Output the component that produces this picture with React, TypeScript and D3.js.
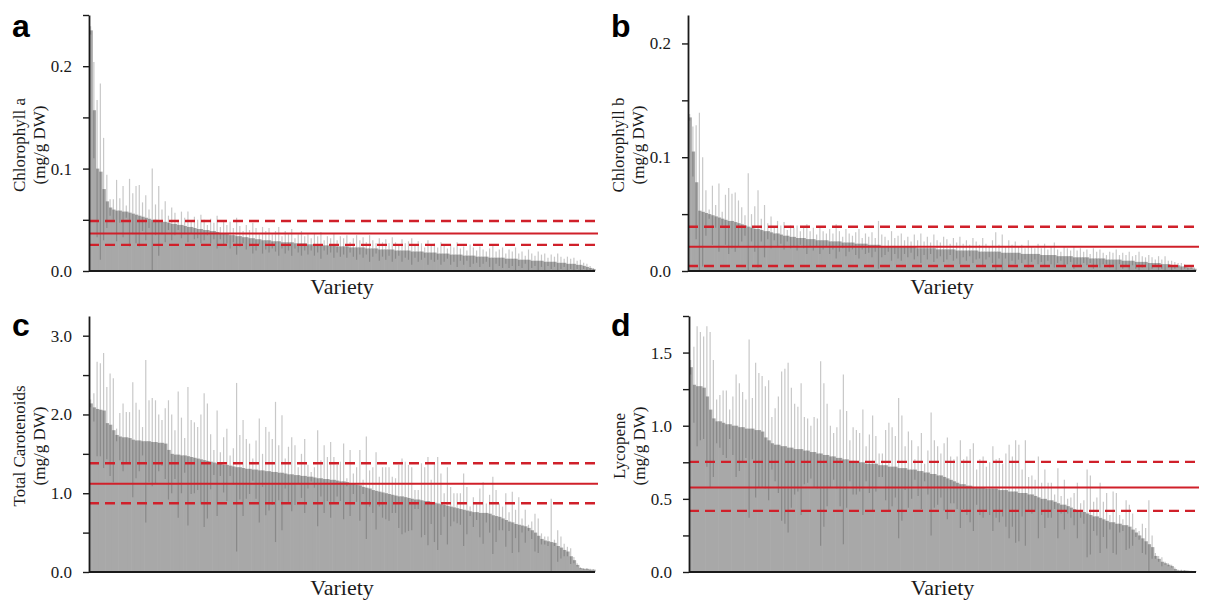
import React, { useEffect, useRef } from 'react';
import * as d3 from 'd3';

// ---------- data (sorted varieties, mean and error) ----------
const chlA = [
  0.235, 0.157, 0.100, 0.097, 0.080, 0.068, 0.062, 0.060, 0.059, 0.059,
  0.058, 0.058, 0.057, 0.056, 0.055, 0.054, 0.053, 0.052, 0.051, 0.050,
  0.050, 0.049, 0.048, 0.048, 0.047, 0.046, 0.046, 0.045, 0.045, 0.044,
  0.043, 0.043, 0.042, 0.041, 0.041, 0.040, 0.040, 0.039, 0.039, 0.038,
  0.037, 0.037, 0.036, 0.035, 0.035, 0.034, 0.034, 0.033, 0.033, 0.032,
  0.032, 0.031, 0.031, 0.030, 0.030, 0.030, 0.029, 0.029, 0.029, 0.028,
  0.028, 0.028, 0.028, 0.027, 0.027, 0.027, 0.027, 0.026, 0.026, 0.026,
  0.026, 0.025, 0.025, 0.025, 0.025, 0.025, 0.024, 0.024, 0.024, 0.024,
  0.023, 0.023, 0.023, 0.023, 0.023, 0.022, 0.022, 0.022, 0.022, 0.021,
  0.021, 0.021, 0.021, 0.021, 0.020, 0.020, 0.020, 0.020, 0.020, 0.019,
  0.019, 0.019, 0.019, 0.018, 0.018, 0.018, 0.018, 0.017, 0.017, 0.017,
  0.017, 0.016, 0.016, 0.016, 0.016, 0.015, 0.015, 0.015, 0.015, 0.014,
  0.014, 0.014, 0.014, 0.013, 0.013, 0.013, 0.013, 0.013, 0.012, 0.012,
  0.012, 0.012, 0.011, 0.011, 0.011, 0.011, 0.010, 0.010, 0.010, 0.010,
  0.009, 0.009, 0.009, 0.009, 0.008, 0.008, 0.008, 0.007, 0.007, 0.007,
  0.006, 0.006, 0.005, 0.004, 0.003, 0.002,
];
const chlAErr = [
  0.004, 0.047, 0.067, 0.086, 0.050, 0.026, 0.008, 0.010, 0.030, 0.012,
  0.025, 0.006, 0.033, 0.020, 0.028, 0.030, 0.014, 0.022, 0.009, 0.050,
  0.015, 0.034, 0.012, 0.020, 0.007, 0.016, 0.011, 0.005, 0.013, 0.008,
  0.015, 0.006, 0.011, 0.009, 0.014, 0.010, 0.005, 0.012, 0.008, 0.016,
  0.006, 0.011, 0.009, 0.013, 0.007, 0.018, 0.010, 0.006, 0.012, 0.008,
  0.015, 0.011, 0.005, 0.013, 0.009, 0.012, 0.007, 0.010, 0.014, 0.006,
  0.011, 0.008, 0.013, 0.005, 0.009, 0.012, 0.007, 0.010, 0.006, 0.011,
  0.008, 0.013, 0.005, 0.009, 0.007, 0.012, 0.006, 0.010, 0.008, 0.011,
  0.005, 0.009, 0.012, 0.007, 0.010, 0.006, 0.013, 0.008, 0.005, 0.011,
  0.007, 0.010, 0.006, 0.012, 0.008, 0.005, 0.011, 0.007, 0.009, 0.013,
  0.006, 0.010, 0.008, 0.005, 0.012, 0.007, 0.009, 0.006, 0.011, 0.008,
  0.005, 0.010, 0.007, 0.012, 0.006, 0.009, 0.005, 0.011, 0.008, 0.006,
  0.010, 0.007, 0.005, 0.009, 0.012, 0.006, 0.008, 0.010, 0.005, 0.009,
  0.007, 0.011, 0.006, 0.008, 0.004, 0.010, 0.007, 0.005, 0.009, 0.006,
  0.008, 0.004, 0.007, 0.005, 0.009, 0.006, 0.004, 0.007, 0.005, 0.006,
  0.004, 0.005, 0.003, 0.003, 0.002, 0.001,
];

const chlB = [
  0.135, 0.105, 0.078, 0.053, 0.052, 0.051, 0.050, 0.049, 0.048, 0.047,
  0.046, 0.045, 0.044, 0.044, 0.043, 0.042, 0.041, 0.040, 0.039, 0.038,
  0.037, 0.037, 0.036, 0.035, 0.035, 0.034, 0.033, 0.033, 0.032, 0.031,
  0.031, 0.030, 0.030, 0.029, 0.029, 0.029, 0.028, 0.028, 0.028, 0.027,
  0.027, 0.027, 0.027, 0.026, 0.026, 0.026, 0.026, 0.025, 0.025, 0.025,
  0.025, 0.024, 0.024, 0.024, 0.024, 0.023, 0.023, 0.023, 0.023, 0.022,
  0.022, 0.022, 0.022, 0.022, 0.021, 0.021, 0.021, 0.021, 0.021, 0.021,
  0.020, 0.020, 0.020, 0.020, 0.020, 0.020, 0.019, 0.019, 0.019, 0.019,
  0.019, 0.019, 0.018, 0.018, 0.018, 0.018, 0.018, 0.018, 0.018, 0.017,
  0.017, 0.017, 0.017, 0.017, 0.017, 0.017, 0.016, 0.016, 0.016, 0.016,
  0.016, 0.016, 0.015, 0.015, 0.015, 0.015, 0.015, 0.015, 0.014, 0.014,
  0.014, 0.014, 0.014, 0.013, 0.013, 0.013, 0.013, 0.013, 0.012, 0.012,
  0.012, 0.012, 0.012, 0.011, 0.011, 0.011, 0.011, 0.011, 0.010, 0.010,
  0.010, 0.010, 0.010, 0.009, 0.009, 0.009, 0.009, 0.008, 0.008, 0.008,
  0.008, 0.007, 0.007, 0.007, 0.007, 0.006, 0.006, 0.006, 0.005, 0.005,
  0.005, 0.004, 0.004, 0.003, 0.003, 0.002,
];
const chlBErr = [
  0.003, 0.022, 0.050, 0.086, 0.048, 0.020, 0.004, 0.026, 0.010, 0.030,
  0.006, 0.022, 0.029, 0.024, 0.026, 0.020, 0.015, 0.009, 0.047, 0.012,
  0.020, 0.034, 0.010, 0.023, 0.007, 0.014, 0.006, 0.011, 0.008, 0.012,
  0.005, 0.010, 0.008, 0.011, 0.006, 0.009, 0.013, 0.007, 0.010, 0.005,
  0.012, 0.008, 0.006, 0.011, 0.007, 0.015, 0.009, 0.005, 0.012, 0.008,
  0.006, 0.010, 0.013, 0.005, 0.009, 0.007, 0.011, 0.006, 0.021, 0.010,
  0.008, 0.005, 0.013, 0.007, 0.010, 0.012, 0.006, 0.009, 0.005, 0.011,
  0.007, 0.013, 0.006, 0.010, 0.005, 0.012, 0.008, 0.006, 0.011, 0.009,
  0.005, 0.010, 0.007, 0.012, 0.006, 0.009, 0.005, 0.011, 0.008, 0.006,
  0.012, 0.007, 0.005, 0.010, 0.017, 0.006, 0.016, 0.005, 0.011, 0.007,
  0.010, 0.006, 0.008, 0.005, 0.012, 0.007, 0.005, 0.009, 0.006, 0.010,
  0.005, 0.008, 0.011, 0.006, 0.004, 0.009, 0.007, 0.005, 0.010, 0.006,
  0.008, 0.005, 0.007, 0.004, 0.009, 0.006, 0.008, 0.005, 0.004, 0.007,
  0.006, 0.009, 0.004, 0.007, 0.005, 0.008, 0.004, 0.006, 0.009, 0.005,
  0.004, 0.007, 0.005, 0.003, 0.006, 0.004, 0.007, 0.003, 0.004, 0.003,
  0.002, 0.003, 0.002, 0.002, 0.001, 0.001,
];

const carot = [
  2.14, 2.09, 2.07, 2.06, 2.05, 1.89, 1.87, 1.80, 1.74, 1.72,
  1.71, 1.71, 1.70, 1.68, 1.67, 1.67, 1.66, 1.66, 1.66, 1.65,
  1.65, 1.64, 1.64, 1.63, 1.55, 1.50, 1.49, 1.49, 1.48, 1.48,
  1.47, 1.46, 1.45, 1.44, 1.43, 1.42, 1.41, 1.40, 1.39, 1.38,
  1.37, 1.36, 1.36, 1.35, 1.34, 1.33, 1.33, 1.32, 1.31, 1.31,
  1.30, 1.30, 1.29, 1.29, 1.28, 1.28, 1.27, 1.27, 1.26, 1.26,
  1.25, 1.24, 1.24, 1.23, 1.23, 1.22, 1.22, 1.21, 1.21, 1.20,
  1.19, 1.19, 1.18, 1.18, 1.17, 1.17, 1.16, 1.15, 1.15, 1.14,
  1.13, 1.12, 1.11, 1.10, 1.08, 1.07, 1.06, 1.04, 1.03, 1.02,
  1.01, 1.00, 0.99, 0.98, 0.97, 0.96, 0.96, 0.95, 0.94, 0.93,
  0.92, 0.92, 0.91, 0.90, 0.90, 0.89, 0.88, 0.87, 0.86, 0.85,
  0.84, 0.83, 0.82, 0.81, 0.80, 0.79, 0.78, 0.77, 0.76, 0.76,
  0.75, 0.75, 0.75, 0.74, 0.72, 0.71, 0.70, 0.68, 0.66, 0.64,
  0.63, 0.61, 0.60, 0.59, 0.58, 0.56, 0.53, 0.50, 0.46, 0.42,
  0.40, 0.39, 0.38, 0.37, 0.33, 0.31, 0.28, 0.26, 0.20, 0.15,
  0.09, 0.05, 0.04, 0.04, 0.03, 0.03,
];
const carotErr = [
  0.05, 0.18, 0.60, 0.59, 0.73, 0.46, 0.65, 0.66, 0.08, 0.30,
  0.43, 0.32, 0.33, 0.73, 0.48, 0.39, 0.18, 1.03, 0.52, 0.56,
  0.53, 0.36, 0.29, 0.45, 0.63, 0.50, 0.31, 0.80, 0.48, 0.22,
  0.88, 0.47, 0.45, 0.40, 0.57, 0.85, 0.73, 0.35, 0.16, 0.67,
  0.15, 0.35, 0.46, 0.13, 0.23, 1.07, 0.41, 0.61, 0.38, 0.32,
  0.14, 0.37, 0.66, 0.21, 0.56, 0.50, 0.42, 0.89, 0.35, 0.73,
  0.19, 0.35, 0.47, 0.38, 0.10, 0.28, 0.47, 0.15, 0.06, 0.13,
  0.61, 0.23, 0.43, 0.28, 0.48, 0.29, 0.20, 0.25, 0.48, 0.05,
  0.42, 0.13, 0.22, 0.45, 0.09, 0.65, 0.23, 0.29, 0.49, 0.19,
  0.32, 0.33, 0.34, 0.23, 0.22, 0.40, 0.48, 0.45, 0.42, 0.40,
  0.12, 0.12, 0.47, 0.43, 0.56, 0.28, 0.50, 0.59, 0.39, 0.15,
  0.49, 0.25, 0.18, 0.19, 0.20, 0.46, 0.30, 0.06, 0.19, 0.10,
  0.31, 0.39, 0.12, 0.24, 0.49, 0.33, 0.17, 0.15, 0.34, 0.12,
  0.39, 0.18, 0.35, 0.09, 0.21, 0.04, 0.11, 0.24, 0.22, 0.07,
  0.05, 0.06, 0.55, 0.04, 0.20, 0.14, 0.08, 0.06, 0.10, 0.04,
  0.02, 0.01, 0.01, 0.01, 0.01, 0.005,
];

const lyco = [
  1.40, 1.28, 1.27, 1.27, 1.26, 1.20, 1.11, 1.05, 1.03, 1.03,
  1.02, 1.01, 1.01, 1.00, 1.00, 0.99, 0.99, 0.98, 0.98, 0.98,
  0.97, 0.97, 0.96, 0.92, 0.90, 0.88, 0.87, 0.87, 0.86, 0.86,
  0.85, 0.85, 0.84, 0.84, 0.84, 0.83, 0.83, 0.82, 0.82, 0.81,
  0.81, 0.80, 0.80, 0.79, 0.79, 0.78, 0.78, 0.77, 0.77, 0.76,
  0.76, 0.75, 0.75, 0.75, 0.74, 0.74, 0.74, 0.74, 0.73, 0.73,
  0.73, 0.72, 0.72, 0.72, 0.71, 0.71, 0.71, 0.70, 0.70, 0.70,
  0.69, 0.69, 0.68, 0.68, 0.67, 0.67, 0.66, 0.66, 0.65, 0.64,
  0.63, 0.62, 0.61, 0.60, 0.60, 0.59, 0.59, 0.58, 0.58, 0.58,
  0.58, 0.57, 0.57, 0.57, 0.57, 0.56, 0.56, 0.56, 0.55, 0.55,
  0.55, 0.54, 0.54, 0.54, 0.53, 0.53, 0.52, 0.51, 0.50, 0.50,
  0.49, 0.49, 0.48, 0.47, 0.46, 0.46, 0.45, 0.44, 0.43, 0.42,
  0.42, 0.41, 0.40, 0.39, 0.38, 0.38, 0.37, 0.36, 0.35, 0.34,
  0.34, 0.33, 0.33, 0.32, 0.32, 0.31, 0.29, 0.27, 0.25, 0.23,
  0.21, 0.19, 0.17, 0.11, 0.09, 0.07, 0.06, 0.05, 0.04, 0.02,
  0.01, 0.01, 0.01, 0.008, 0.006, 0.005,
];
const lycoErr = [
  0.05, 0.26, 0.41, 0.37, 0.35, 0.48, 0.53, 0.40, 0.15, 0.18,
  0.22, 0.23, 0.10, 0.20, 0.35, 0.30, 0.24, 0.20, 0.61, 0.21,
  0.46, 0.39, 0.38, 0.35, 0.41, 0.18, 0.25, 0.33, 0.51, 0.53,
  0.58, 0.41, 0.31, 0.29, 0.45, 0.23, 0.22, 0.18, 0.24, 0.24,
  0.63, 0.49, 0.35, 0.21, 0.16, 0.21, 0.33, 0.58, 0.33, 0.14,
  0.23, 0.22, 0.20, 0.36, 0.12, 0.20, 0.33, 0.19, 0.08, 0.08,
  0.24, 0.30, 0.27, 0.21, 0.48, 0.36, 0.15, 0.26, 0.20, 0.07,
  0.17, 0.26, 0.06, 0.15, 0.42, 0.23, 0.20, 0.15, 0.23, 0.28,
  0.16, 0.15, 0.18, 0.30, 0.17, 0.20, 0.25, 0.30, 0.12, 0.19,
  0.21, 0.15, 0.18, 0.29, 0.20, 0.22, 0.18, 0.25, 0.32, 0.24,
  0.35, 0.33, 0.16, 0.36, 0.12, 0.13, 0.11, 0.28, 0.11, 0.20,
  0.12, 0.12, 0.05, 0.24, 0.06, 0.17, 0.05, 0.07, 0.11, 0.19,
  0.05, 0.08, 0.30, 0.27, 0.10, 0.13, 0.24, 0.12, 0.19, 0.05,
  0.21, 0.21, 0.06, 0.04, 0.17, 0.15, 0.11, 0.03, 0.03, 0.10,
  0.09, 0.30, 0.08, 0.02, 0.02, 0.03, 0.01, 0.01, 0.01, 0.01,
  0.005, 0.005, 0.003, 0.003, 0.002, 0.002,
];

// reference lines: lower band (dashed), mean (solid), upper band (dashed)
const refA = [0.0255, 0.0365, 0.0488];
const refB = [0.0044, 0.0214, 0.0389];
const refC = [0.873, 1.12, 1.38];
const refD = [0.418, 0.577, 0.753];

// axes
const ticksA = [0, 0.05, 0.1, 0.15, 0.2, 0.25];
const labelsA = [0, 0.1, 0.2];
const ticksB = [0, 0.05, 0.1, 0.15, 0.2];
const labelsB = [0, 0.1, 0.2];
const ticksC = [0, 0.5, 1, 1.5, 2, 2.5, 3];
const labelsC = [0, 1, 2, 3];
const ticksD = [0, 0.25, 0.5, 0.75, 1, 1.25, 1.5, 1.75];
const labelsD = [0, 0.5, 1, 1.5];
const yMaxes = [0.25, 0.225, 3.25, 1.75];

const panelLetters = ['a', 'b', 'c', 'd'];
const yTitles = [
  ['Chlorophyll a', '(mg/g DW)'],
  ['Chlorophyll b', '(mg/g DW)'],
  ['Total Carotenoids', '(mg/g DW)'],
  ['Lycopene', '(mg/g DW)'],
];
const xTitle = 'Variety';

const panels = [
  { values: chlA, errors: chlAErr, refs: refA, ticks: ticksA, labels: labelsA },
  { values: chlB, errors: chlBErr, refs: refB, ticks: ticksB, labels: labelsB },
  { values: carot, errors: carotErr, refs: refC, ticks: ticksC, labels: labelsC },
  { values: lyco, errors: lycoErr, refs: refD, ticks: ticksD, labels: labelsD },
];

// ---------- layout ----------
const W = 1206;
const H = 601;
const layouts = [
  { x0: 89, x1: 595, yTop: 15, yBase: 271, lx: 12, ly: 37 },
  { x0: 688, x1: 1196, yTop: 15, yBase: 271, lx: 611, ly: 37 },
  { x0: 89, x1: 595, yTop: 316, yBase: 572, lx: 12, ly: 336 },
  { x0: 689, x1: 1196, yTop: 316, yBase: 572, lx: 611, ly: 336 },
];
const SERIF = "'Liberation Serif', 'Times New Roman', Times, 'DejaVu Serif', serif";
const SANS = "'Liberation Sans', Arial, Helvetica, sans-serif";
const RED = '#d0202a';
const INK = '#1a1a1a';

export default function App() {
  const ref = useRef<SVGSVGElement | null>(null);

  useEffect(() => {
    const svg = d3.select(ref.current);
    svg.selectAll('*').remove();
    svg.append('rect').attr('width', W).attr('height', H).attr('fill', '#fff');

    panels.forEach((p, k) => {
      const L = layouts[k];
      const yMax = yMaxes[k];
      const g = svg.append('g');
      const x = d3
        .scaleBand<number>()
        .domain(d3.range(p.values.length))
        .range([L.x0, L.x1])
        .paddingInner(0)
        .paddingOuter(0);
      const y = d3.scaleLinear().domain([0, yMax]).range([L.yBase, L.yTop]);
      const bw = x.bandwidth();

      // bars
      g.append('g')
        .selectAll('rect')
        .data(p.values)
        .join('rect')
        .attr('x', (_d, i) => x(i) as number)
        .attr('y', (d) => y(d))
        .attr('width', bw + 0.6)
        .attr('height', (d) => L.yBase - y(d))
        .attr('fill', '#a8a8a8');

      // error bars
      g.append('g')
        .selectAll('line')
        .data(p.values)
        .join('line')
        .attr('x1', (_d, i) => (x(i) as number) + bw / 2)
        .attr('x2', (_d, i) => (x(i) as number) + bw / 2)
        .attr('y1', (d, i) => y(Math.max(0, d - p.errors[i])))
        .attr('y2', (d, i) => y(Math.min(yMax, d + p.errors[i])))
        .attr('stroke', '#3a3a3a')
        .attr('stroke-opacity', 0.28)
        .attr('stroke-width', 1.2);

      // reference lines
      p.refs.forEach((v, j) => {
        g.append('line')
          .attr('x1', L.x0)
          .attr('x2', L.x1 + 3)
          .attr('y1', y(v))
          .attr('y2', y(v))
          .attr('stroke', RED)
          .attr('stroke-width', j === 1 ? 2 : 2.4)
          .attr('stroke-dasharray', j === 1 ? null : '10,6');
      });

      // baseline
      g.append('line')
        .attr('x1', L.x0)
        .attr('x2', L.x1)
        .attr('y1', L.yBase)
        .attr('y2', L.yBase)
        .attr('stroke', INK)
        .attr('stroke-width', 1.8);

      // y axis
      const fmt = d3.format('.1f');
      const axis = d3
        .axisLeft(y)
        .tickValues(p.ticks)
        .tickSize(6)
        .tickSizeOuter(0)
        .tickPadding(11)
        .tickFormat((v) =>
          p.labels.some((l) => Math.abs(l - (v as number)) < 1e-9) ? fmt(v as number) : ''
        );
      const ag = g.append('g').attr('transform', `translate(${L.x0},0)`).call(axis as any);
      ag.attr('font-family', null).attr('font-size', null);
      ag.style('font-family', SERIF).style('font-size', '17px');
      ag.select('.domain').attr('stroke', INK).attr('stroke-width', 1.8);
      ag.selectAll('.tick line').attr('stroke', INK).attr('stroke-width', 1.4);
      ag.selectAll('.tick text')
        .style('font-family', SERIF)
        .style('font-size', '17px')
        .attr('fill', INK);

      // y titles
      const cy = (L.yTop + L.yBase) / 2 + 2;
      yTitles[k].forEach((t, j) => {
        g.append('text')
          .attr('transform', `translate(${L.x0 - 64 + j * 20},${cy}) rotate(-90)`)
          .attr('text-anchor', 'middle')
          .style('font-family', SERIF)
          .style('font-size', '17px')
          .attr('fill', INK)
          .text(t);
      });

      // x title
      g.append('text')
        .attr('x', (L.x0 + L.x1) / 2)
        .attr('y', L.yBase + 23)
        .attr('text-anchor', 'middle')
        .style('font-family', SERIF)
        .style('font-size', '22px')
        .attr('fill', INK)
        .text(xTitle);

      // panel letter
      g.append('text')
        .attr('x', L.lx)
        .attr('y', L.ly)
        .style('font-family', SANS)
        .style('font-weight', 'bold')
        .style('font-size', '32px')
        .attr('fill', '#000')
        .text(panelLetters[k]);
    });
  }, []);

  return (
    <svg
      ref={ref}
      width={W}
      height={H}
      style={{ position: 'absolute', left: 0, top: 0, display: 'block' }}
    />
  );
}
